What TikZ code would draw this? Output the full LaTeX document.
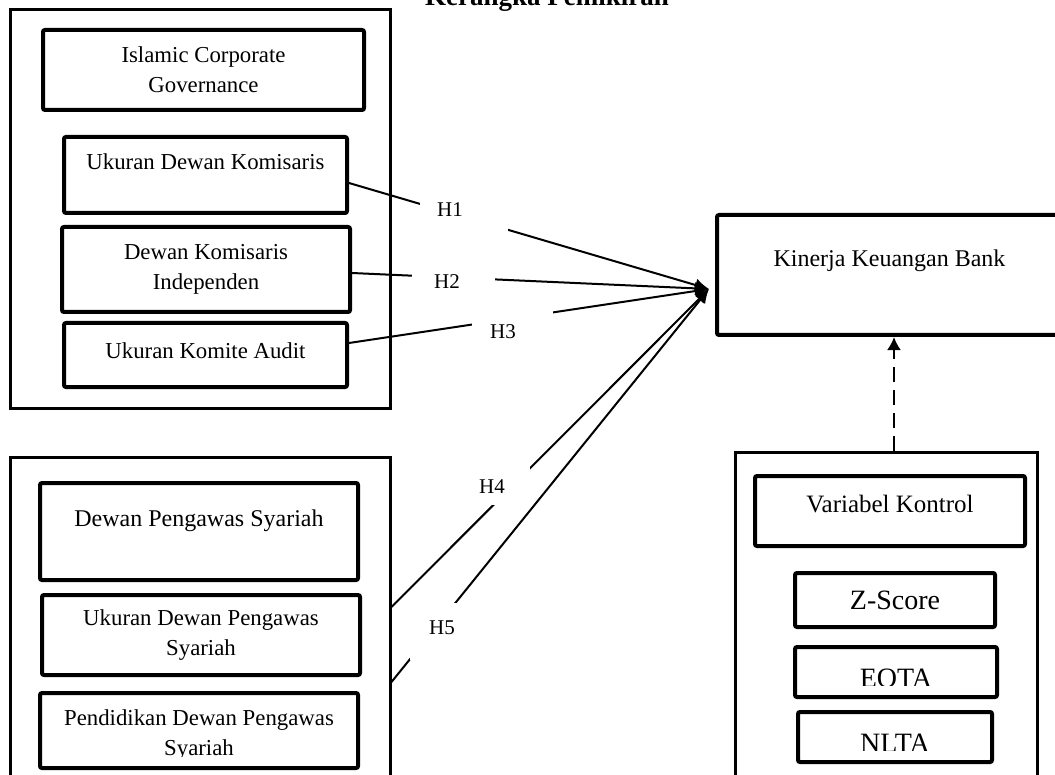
\documentclass[tikz,border=0pt]{standalone}
\usepackage{fontspec}
\setmainfont{Liberation Serif}
\usetikzlibrary{arrows.meta,positioning}

\tikzset{
  grp/.style={draw, line width=1.5pt, inner sep=0pt},
  boxtext/.style={align=center, inner sep=0pt, font=\fontsize{11.4}{15}\selectfont},
  box/.style={boxtext, draw, line width=2pt, rounded corners=1pt},
  gap/.style={fill=white, inner sep=0pt},
  hlab/.style={inner sep=0pt, font=\fontsize{10.5}{12}\selectfont},
  link/.style={line width=1pt, -{Latex[length=7pt,width=6.5pt]}},
  ctrl/.style={line width=1pt, dash pattern=on 7.5pt off 4pt, -{Latex[length=6.5pt,width=7pt]}},
}

\begin{document}
\begin{tikzpicture}[x=0.5pt, y=-0.5pt]
  \useasboundingbox (0,0) rectangle (1055,775);
  \node[anchor=base, inner sep=0pt, font=\fontsize{13.5}{16}\selectfont\bfseries] (title) at (547,6) {Kerangka Pemikiran};

  \node[grp, minimum width=190pt, minimum height=199pt] (icg) at (200,209) {};
  \node[box, minimum width=160.5pt, minimum height=40pt] (icgt) at (203.5,70) {Islamic Corporate\\Governance};
  \node[box, minimum width=141.5pt, text height=16.5pt, text depth=21.5pt] (ukd) at (205.5,175) {Ukuran Dewan Komisaris};
  \node[box, minimum width=144pt, minimum height=42.5pt] (dki) at (206,269.5) {Dewan Komisaris\\Independen};
  \node[box, minimum width=141.5pt, text height=17.5pt, text depth=14.5pt] (uka) at (205.5,355) {Ukuran Komite Audit};

  \node[grp, minimum width=190pt, minimum height=171.5pt] (dpsg) at (200,628.5) {};
  \node[box, font=\fontsize{12}{14}\selectfont, minimum width=159pt, text height=21.5pt, text depth=27pt] (dps) at (199,531.5) {Dewan Pengawas Syariah};
  \node[box, minimum width=159pt, minimum height=40pt] (udps) at (201,635) {Ukuran Dewan Pengawas\\Syariah};
  \node[box, minimum width=159pt, minimum height=37.5pt] (pdps) at (199,730.5) {};
  \begin{scope}
    \clip (40,690) rectangle (358,756);
    \node[boxtext] (pdpst) at (199,735) {Pendidikan Dewan Pengawas\\Syariah};
  \end{scope}

  \node[box, font=\fontsize{12}{14}\selectfont, minimum width=172.5pt, text height=26pt, text depth=34pt] (kin) at (889.5,275) {Kinerja Keuangan Bank};

  \node[grp, minimum width=151pt, minimum height=174pt] (varg) at (886,626) {};
  \node[box, font=\fontsize{12.5}{14}\selectfont, minimum width=135pt, text height=18pt, text depth=17pt] (vk) at (890,511) {Variabel Kontrol};
  \node[box, font=\fontsize{14}{16}\selectfont, minimum width=100pt, minimum height=27pt] (zs) at (895,600) {Z-Score};
  \node[box, minimum width=101pt, minimum height=25pt] (eota) at (896,672) {};
  \node[box, minimum width=97pt, minimum height=25pt] (nlta) at (895,737) {};
  \begin{scope}
    \clip (790,640) rectangle (1000,685);
    \node[anchor=base, inner sep=0pt, font=\fontsize{14}{16}\selectfont] (eotat) at (896,687) {EOTA};
  \end{scope}
  \begin{scope}
    \clip (790,705) rectangle (1000,750);
    \node[anchor=base, inner sep=0pt, font=\fontsize{14}{16}\selectfont] (nltat) at (895,752) {NLTA};
  \end{scope}

  \coordinate (tip) at ([xshift=-3pt,yshift=-7pt]kin.west);
  \draw[link] ([yshift=-4pt]ukd.east) -- (tip);
  \draw[link] ([yshift=-1.75pt]dki.east) -- (tip);
  \draw[link] ([yshift=6pt]uka.east) -- (tip);
  \draw[link] ([yshift=10.75pt]dpsg.east) -- (tip);
  \draw[link] ([yshift=-26.75pt]dpsg.east) -- (tip);

  \node[gap, minimum width=44pt, minimum height=30pt] (g1) at (464,215) {};
  \node[hlab] (h1) at (450,210) {H1};
  \node[gap, minimum width=41.5pt, minimum height=25pt] (g2) at (453.5,280) {};
  \node[hlab] (h2) at (447,282) {H2};
  \node[gap, minimum width=40.5pt, minimum height=33.5pt] (g3) at (512.5,341.5) {};
  \node[hlab] (h3) at (503,332) {H3};
  \node[gap, minimum width=36pt, minimum height=21.5pt] (g4) at (494,483.5) {};
  \node[hlab] (h4) at (492,487) {H4};
  \node[gap, minimum width=37.5pt, minimum height=28.5pt] (g5) at (447.5,631.5) {};
  \node[hlab] (h5) at (442,628) {H5};

  \coordinate (vtop) at ([xshift=4pt]varg.north);
  \draw[ctrl] (vtop) -- (vtop |- kin.south);
\end{tikzpicture}
\end{document}
